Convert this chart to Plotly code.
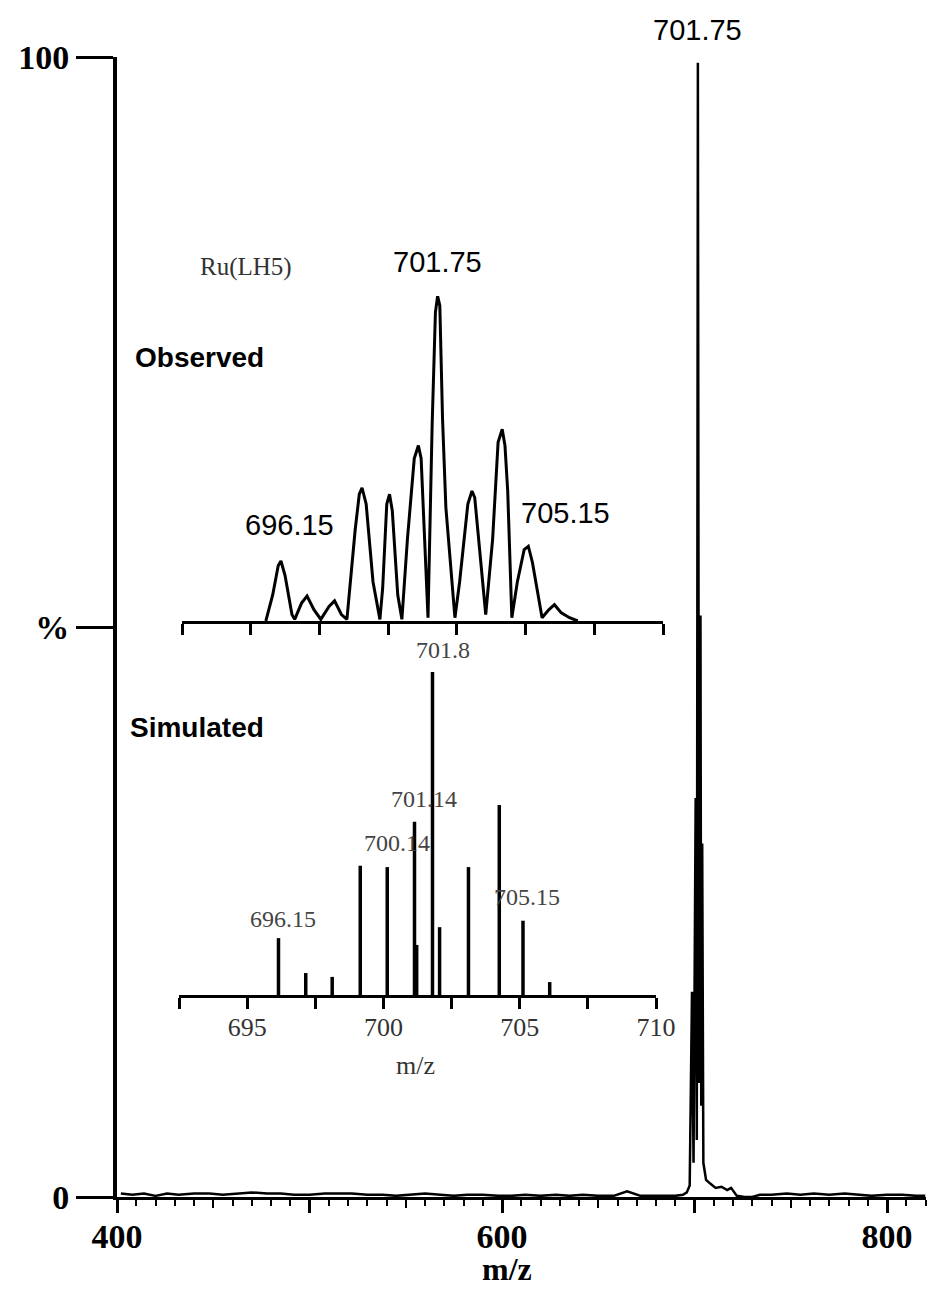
import plotly.graph_objects as go

# ---------------- data ----------------
# main (full-range) spectrum, m/z vs relative intensity (%)
main_mz = [402, 408, 414, 420, 426, 432, 440, 448, 455, 462, 470, 478, 485, 492,
           500, 508, 515, 522, 530, 538, 545, 552, 560, 568, 575, 582, 590, 598,
           605, 612, 620, 628, 635, 642, 650, 658, 665, 672, 680, 686, 690, 694,
           696, 697.5, 698.7, 699.5, 700.6, 701.2, 701.75, 702.4, 703.1, 703.5,
           704.0, 704.6, 706, 708, 711, 714, 717, 719, 722, 726, 730, 734, 740,
           748, 755, 762, 770, 778, 785, 792, 800, 808, 815, 820]
main_int = [0.3, 0.2, 0.3, 0.1, 0.3, 0.2, 0.3, 0.3, 0.2, 0.3, 0.4, 0.3, 0.3, 0.2,
            0.2, 0.3, 0.3, 0.3, 0.2, 0.2, 0.1, 0.2, 0.3, 0.2, 0.1, 0.2, 0.2, 0.1,
            0.1, 0.2, 0.1, 0.2, 0.1, 0.2, 0.1, 0.1, 0.5, 0.1, 0.1, 0.1, 0.1, 0.2,
            0.4, 1.0, 18, 3, 35, 5, 99.5, 10, 51, 8,
            31, 3, 1.5, 1.2, 0.8, 0.9, 0.6, 0.8, 0.1, 0.0, 0.0, 0.2, 0.2,
            0.3, 0.2, 0.3, 0.2, 0.3, 0.2, 0.1, 0.2, 0.2, 0.1, 0.1]

# observed isotope envelope (inset, top)
obs_mz = [695.55, 695.8, 696.0, 696.1, 696.25, 696.5, 696.6, 696.85, 697.05, 697.3,
          697.55, 697.85, 698.05, 698.3, 698.5, 698.8, 698.95, 699.05, 699.2, 699.45,
          699.7, 699.8, 699.95, 700.05, 700.15, 700.35, 700.5, 700.7, 700.95, 701.1,
          701.2, 701.35, 701.45, 701.6, 701.72, 701.8, 701.88, 701.98, 702.1, 702.43,
          702.6, 702.9, 703.05, 703.15, 703.3, 703.55, 703.8, 704.0, 704.15, 704.25,
          704.35, 704.5, 704.7, 704.95, 705.1, 705.25, 705.6, 705.85, 706.05, 706.3,
          706.6, 706.9]
obs_int = [0, 8, 17, 18.5, 14, 2, 0.5, 5.5, 7.7, 3.5,
           0.5, 4.5, 6.2, 2, 0.5, 28, 39, 41, 36, 12,
           0.5, 10, 36, 39, 34, 8, 0.5, 25, 50, 54,
           50, 20, 1, 60, 95, 100, 97, 62, 35, 1,
           12, 36, 40, 38, 25, 2, 25, 55, 59, 54,
           40, 1, 12, 22, 23, 18, 1, 3.5, 5, 2.5,
           1, 0]

# simulated isotope pattern (inset, bottom)
sim_mz = [696.15, 697.15, 698.12, 699.15, 700.14, 701.14, 701.22, 701.8, 702.06,
          703.12, 704.25, 705.12, 706.1]
sim_int = [17.6, 6.8, 5.6, 40, 39.6, 53.6, 15.5, 100, 21, 39.6, 58.8, 23, 4]

main_ticks = [400, 500, 600, 700, 800]
main_ticktext = ["<b>400</b>", "", "<b>600</b>", "", "<b>800</b>"]
main_mid_ticks = [450, 550, 650, 750]
y_ticks = [0, 50, 100]
y_ticktext = ["<b>0</b>", "<b>%</b>", "<b>100</b>"]
inset_ticks = [692.5, 695, 697.5, 700, 702.5, 705, 707.5, 710]
inset_ticktext = ["", "695", "", "700", "", "705", "", "710"]

# ---------------- layout helpers ----------------
W, H = 930, 1291
def fx(p):
    return p / W
def fy(p):
    return 1 - p / H

SERIF = "Liberation Serif"
SANS = "Liberation Sans"

fig = go.Figure()

fig.add_trace(go.Scatter(x=main_mz, y=main_int, mode="lines",
                         line=dict(color="black", width=2.5),
                         xaxis="x", yaxis="y", showlegend=False, hoverinfo="skip"))
# invisible trace for the overlay axis carrying the 50-unit ticks
fig.add_trace(go.Scatter(x=[400, 820], y=[0, 0], mode="lines",
                         line=dict(color="rgba(0,0,0,0)", width=0),
                         xaxis="x4", yaxis="y", showlegend=False, hoverinfo="skip"))

fig.add_trace(go.Scatter(x=obs_mz, y=obs_int, mode="lines",
                         line=dict(color="black", width=3),
                         xaxis="x2", yaxis="y2", showlegend=False, hoverinfo="skip"))

sx, sy = [], []
for m, h in zip(sim_mz, sim_int):
    sx += [m, m, None]
    sy += [0, h, None]
fig.add_trace(go.Scatter(x=sx, y=sy, mode="lines",
                         line=dict(color="black", width=3.5),
                         xaxis="x3", yaxis="y3", showlegend=False, hoverinfo="skip"))

fig.update_layout(
    template="none",
    width=W, height=H,
    margin=dict(l=0, r=0, t=0, b=0, pad=0),
    paper_bgcolor="white",
    plot_bgcolor="rgba(0,0,0,0)",
    xaxis=dict(domain=[fx(117), fx(925.5)], range=[400, 820], anchor="y",
               automargin=False,
               showline=True, linecolor="black", linewidth=3,
               showgrid=False, zeroline=False,
               tickmode="array", tickvals=main_ticks, ticktext=main_ticktext,
               ticks="outside", ticklen=13, tickwidth=3, tickcolor="black",
               ticklabelstandoff=-6,
               tickfont=dict(family=SERIF, size=34, color="black"),
               minor=dict(tickmode="linear", tick0=400, dtick=10, ticks="outside",
                          ticklen=6, tickwidth=2, tickcolor="black", showgrid=False)),
    xaxis4=dict(domain=[fx(117), fx(925.5)], range=[400, 820], anchor="y",
                automargin=False,
                overlaying="x", showline=False, showgrid=False, zeroline=False,
                tickmode="array", tickvals=main_mid_ticks, showticklabels=False,
                ticks="outside", ticklen=10, tickwidth=2, tickcolor="black"),
    yaxis=dict(domain=[fy(1197), fy(57)], range=[0, 100], anchor="x",
               automargin=False,
               showline=True, linecolor="black", linewidth=4,
               showgrid=False, zeroline=False,
               tickmode="array", tickvals=y_ticks, ticktext=y_ticktext,
               ticks="outside", ticklen=37, tickwidth=3, tickcolor="black",
               tickfont=dict(family=SERIF, size=34, color="black")),
    xaxis2=dict(domain=[fx(182), fx(663)], range=[692.5, 710], anchor="y2",
                automargin=False,
                showline=True, linecolor="black", linewidth=3,
                showgrid=False, zeroline=False,
                tickmode="array", tickvals=inset_ticks, showticklabels=False,
                ticks="outside", ticklen=11, tickwidth=3, tickcolor="black"),
    yaxis2=dict(domain=[fy(621), fy(296)], range=[0, 100], anchor="x2",
                automargin=False, visible=False),
    xaxis3=dict(domain=[fx(179), fx(656)], range=[692.5, 710], anchor="y3",
                automargin=False,
                showline=True, linecolor="black", linewidth=3,
                showgrid=False, zeroline=False,
                tickmode="array", tickvals=inset_ticks, ticktext=inset_ticktext,
                ticks="outside", ticklen=11, tickwidth=3, tickcolor="black",
                ticklabelstandoff=-4,
                tickfont=dict(family=SERIF, size=26, color="#333333")),
    yaxis3=dict(domain=[fy(995), fy(672)], range=[0, 100], anchor="x3",
                automargin=False, visible=False),
)

def ann(text, px, py, family, size, color="black", bold=False):
    if bold:
        text = "<b>" + text + "</b>"
    fig.add_annotation(text=text, x=fx(px), y=fy(py), xref="paper", yref="paper",
                       xanchor="center", yanchor="middle", showarrow=False,
                       font=dict(family=family, size=size, color=color))

ann("701.75", 697, 30, SANS, 29)
ann("701.75", 437, 262, SANS, 29)
ann("696.15", 289, 525, SANS, 29)
ann("705.15", 565, 513, SANS, 29)
ann("Ru(LH5)", 246, 267, SERIF, 25, color="#333333")
ann("Observed", 199, 357, SANS, 28, bold=True)
ann("Simulated", 197, 727, SANS, 28, bold=True)
ann("701.8", 443, 650, SERIF, 24, color="#444444")
ann("701.14", 424, 799, SERIF, 24, color="#444444")
ann("700.14", 397, 843, SERIF, 24, color="#444444")
ann("696.15", 283, 919, SERIF, 24, color="#444444")
ann("705.15", 527, 897, SERIF, 24, color="#444444")
ann("m/z", 415, 1065, SERIF, 26, color="#333333")
ann("m/z", 507, 1269, SERIF, 32, bold=True)

fig.write_html("out.html")
